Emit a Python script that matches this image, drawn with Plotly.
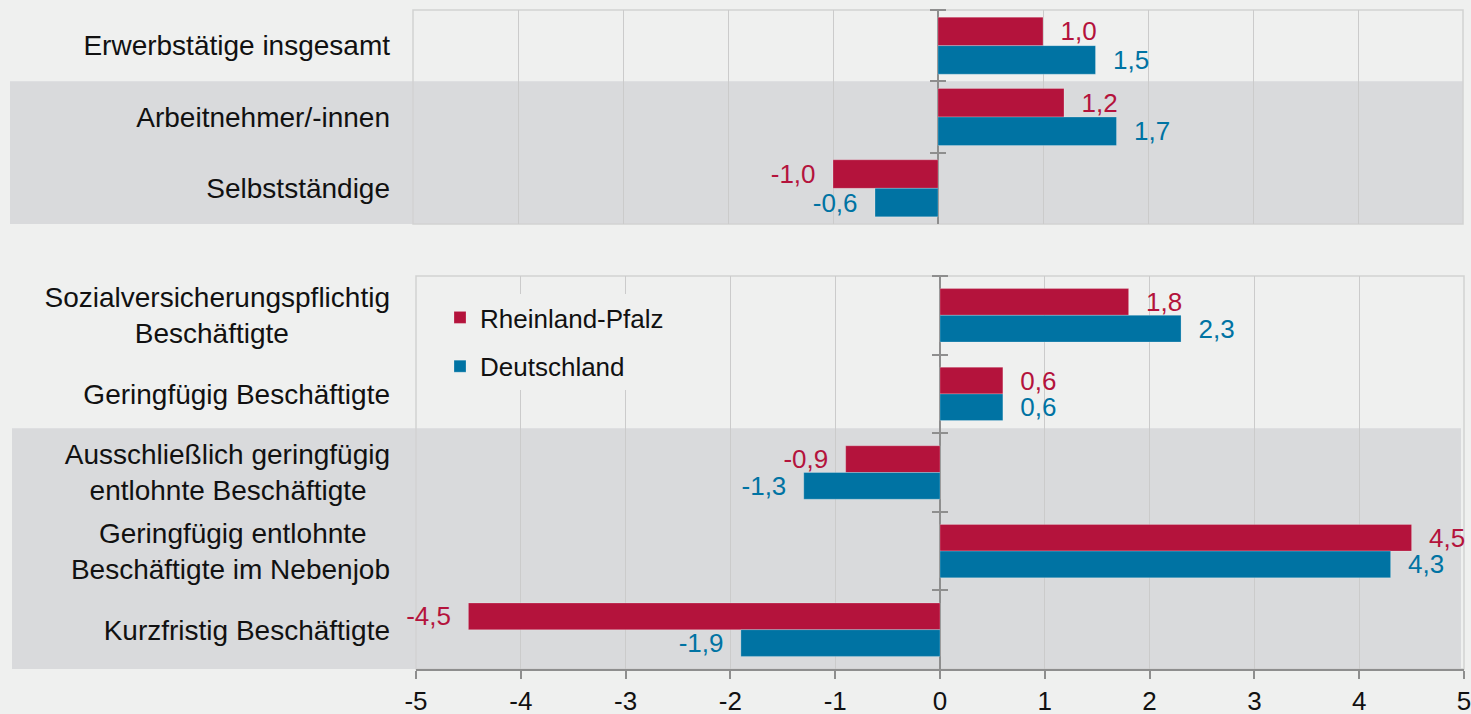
import plotly.graph_objects as go

W, H = 1471, 714
NB = "\u00a0"

RED = "#B4133C"
BLUE = "#0073A3"
BG = "#EFF0EF"
BAND = "#D9DADC"
GRID = "#CBCBCB"
AXIS = "#8E8E8E"

series_names = ["Rheinland-Pfalz", "Deutschland"]

# upper block
top_labels = ["Erwerbstätige insgesamt", "Arbeitnehmer/-innen", "Selbstständige"]
top_rlp = [1.0, 1.2, -1.0]
top_de = [1.5, 1.7, -0.6]

# lower block (NBSP padding roughly centres the shorter line of two-line labels)
bottom_labels = [
    "Sozialversicherungspflichtig<br>Beschäftigte" + NB * 13,
    "Geringfügig Beschäftigte",
    "Ausschließlich geringfügig<br>entlohnte Beschäftigte" + NB * 3,
    "Geringfügig entlohnte" + NB * 3 + "<br>Beschäftigte im Nebenjob",
    "Kurzfristig Beschäftigte",
]
bottom_rlp = [1.8, 0.6, -0.9, 4.5, -4.5]
bottom_de = [2.3, 0.6, -1.3, 4.3, -1.9]

tick_vals = list(range(-5, 6))
tick_text = [str(v) for v in tick_vals]


def fmt(v):
    s = f"{v:.1f}".replace(".", ",")
    return NB * 2 + s if v >= 0 else s + NB * 2


# panel geometry in paper units
top_x = [413 / W, 1463 / W]
top_y = [1 - 224 / H, 1 - 10 / H]
bot_x = [416 / W, 1464 / W]
bot_y = [1 - 669 / H, 1 - 276 / H]

fig = go.Figure()


def add_pair(labels, rlp, de, xa, ya, width, show):
    for name, vals, col, off in [
        (series_names[0], rlp, RED, -width),
        (series_names[1], de, BLUE, 0.0),
    ]:
        fig.add_trace(
            go.Bar(
                x=vals,
                y=labels,
                orientation="h",
                name=name,
                legendgroup=name,
                showlegend=show,
                width=width,
                offset=off,
                marker=dict(color=col, line=dict(color="rgba(255,255,255,0.3)", width=0.8)),
                text=[fmt(v) for v in vals],
                textposition="outside",
                textfont=dict(color=col, size=26),
                constraintext="none",
                cliponaxis=False,
                hoverinfo="skip",
                xaxis=xa,
                yaxis=ya,
            )
        )


add_pair(top_labels, top_rlp, top_de, "x", "y", 0.40, False)
add_pair(bottom_labels, bottom_rlp, bottom_de, "x2", "y2", 0.34, True)

common_x = dict(
    range=[-5, 5],
    dtick=1,
    showgrid=True,
    gridcolor=GRID,
    gridwidth=1,
    zeroline=True,
    zerolinecolor=AXIS,
    zerolinewidth=2,
)
common_y = dict(
    type="category",
    anchor="free",
    side="left",
    ticks="outside",
    ticklen=16,
    tickwidth=1.5,
    tickcolor=AXIS,
    tickson="boundaries",
    showgrid=False,
    showline=False,
    zeroline=False,
    tickfont=dict(size=28, color="#111111"),
)

fig.update_layout(
    template="none",
    width=W,
    height=H,
    margin=dict(l=0, r=0, t=0, b=0),
    paper_bgcolor=BG,
    plot_bgcolor="rgba(0,0,0,0)",
    font=dict(family="Liberation Sans, Arial, sans-serif", color="#111111", size=26),
    barmode="group",
    xaxis=dict(domain=top_x, anchor="y", showticklabels=False, ticks="", **common_x),
    yaxis=dict(
        domain=top_y,
        categoryarray=top_labels,
        categoryorder="array",
        range=[2.5, -0.5],
        position=(938 + 8) / W,
        ticklabelstandoff=556,
        **common_y,
    ),
    xaxis2=dict(
        domain=bot_x,
        anchor="y2",
        tickmode="array",
        tickvals=tick_vals,
        ticktext=tick_text,
        ticks="outside",
        ticklen=8,
        tickwidth=1.5,
        tickcolor=AXIS,
        showline=True,
        linecolor=AXIS,
        linewidth=1.5,
        tickfont=dict(size=26, color="#111111"),
        ticklabeloverflow="allow",
        **common_x,
    ),
    yaxis2=dict(
        domain=bot_y,
        categoryarray=bottom_labels,
        categoryorder="array",
        range=[4.5, -0.5],
        position=(940 + 8) / W,
        ticklabelstandoff=558,
        **common_y,
    ),
    legend=dict(
        x=440 / W,
        y=1 - 294 / H,
        xanchor="left",
        yanchor="top",
        bgcolor=BG,
        font=dict(size=26, color="#111111"),
        traceorder="grouped",
        tracegroupgap=12,
    ),
    showlegend=True,
)

# shaded row bands (drawn below the plot areas)
top_h = top_y[1] - top_y[0]
bot_h = bot_y[1] - bot_y[0]
fig.add_shape(
    type="rect", xref="paper", yref="paper",
    x0=10 / W, x1=top_x[1], y0=top_y[0], y1=top_y[0] + top_h * 2 / 3,
    fillcolor=BAND, line_width=0, layer="below",
)
fig.add_shape(
    type="rect", xref="paper", yref="paper",
    x0=12 / W, x1=bot_x[1] - 3 / W, y0=bot_y[0], y1=bot_y[0] + bot_h * 3 / 5 + 5 / H,
    fillcolor=BAND, line_width=0, layer="below",
)
# panel frames
for xr, yr in [("x domain", "y domain"), ("x2 domain", "y2 domain")]:
    fig.add_shape(
        type="rect", xref=xr, yref=yr, x0=0, x1=1, y0=0, y1=1,
        line=dict(color="#D2D2D2", width=1.5), fillcolor="rgba(0,0,0,0)", layer="below",
    )

fig.write_html(
    "out.html",
    config={"displayModeBar": False},
    post_script="document.body.style.margin='0';document.body.style.overflow='hidden';"
    "document.body.style.background='" + BG + "';",
)
